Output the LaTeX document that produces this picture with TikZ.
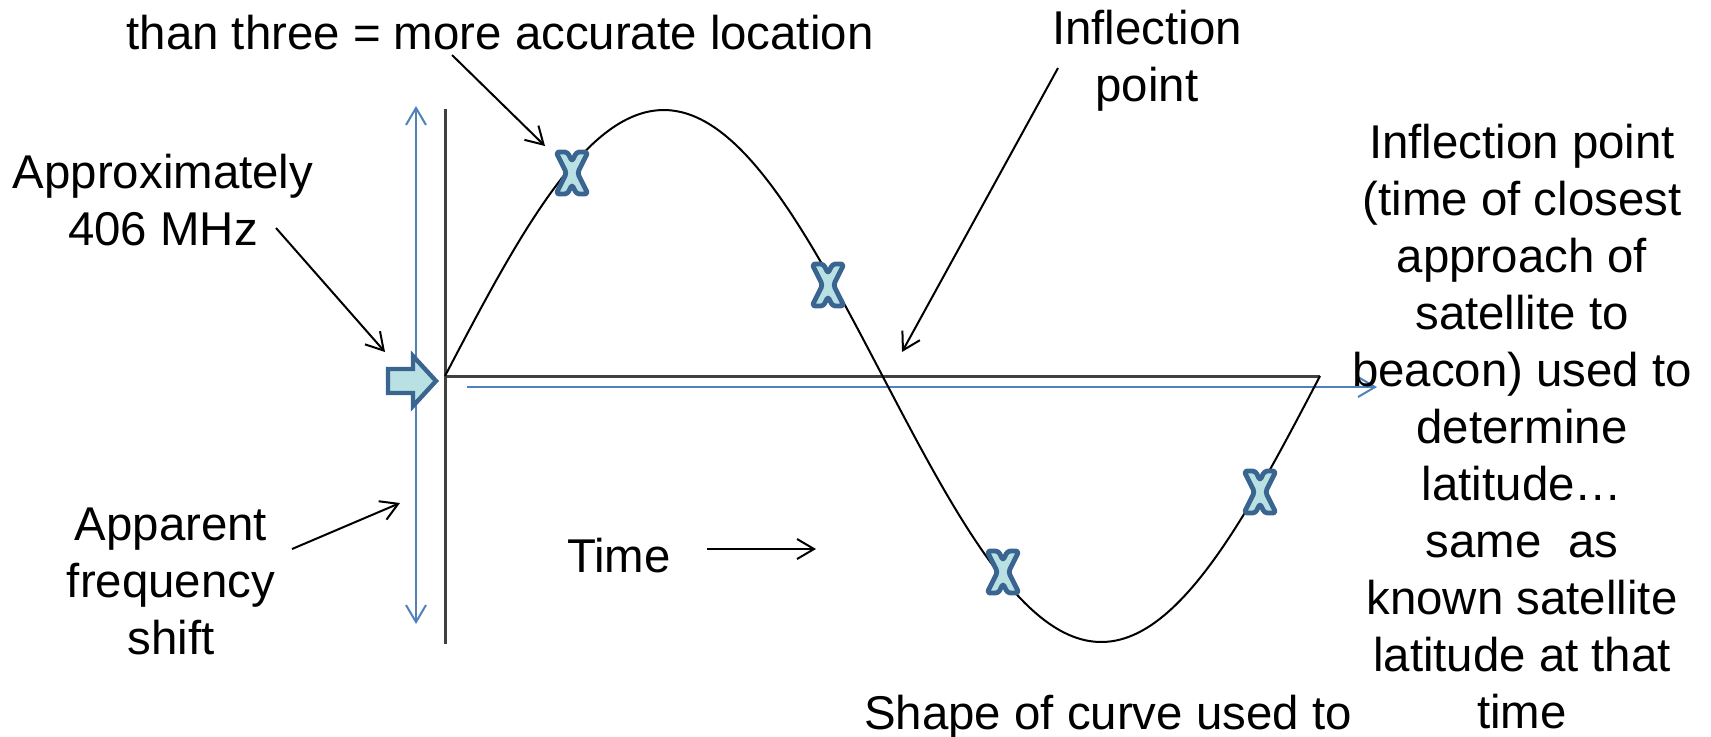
\documentclass[tikz,border=0pt]{standalone}
\usepackage{fontspec}
\setmainfont{Liberation Sans}
\usetikzlibrary{arrows.meta}
\definecolor{xfill}{HTML}{B9E0E3}
\definecolor{xline}{HTML}{3A6591}
\definecolor{bluel}{HTML}{4F81BD}
\definecolor{axisc}{HTML}{404040}
\tikzset{
  lbl/.style={inner sep=0pt, align=center, anchor=base, font=\fontsize{23.7pt}{28.5pt}\selectfont},
  callout/.style={draw=black, line width=1pt, -{Straight Barb[length=8.5pt,width=10pt,line width=1pt]}},
  bluearrow/.style={draw=bluel, line width=1pt},
  axisline/.style={draw=axisc, line width=1.5pt},
  xmark/.style={fill=xfill, draw=xline, line width=2.4pt, line join=round, rounded corners=1.5pt},
}
\newcommand{\xshape}[1]{%
  \path[xmark,shift={(#1)}] (-16,-21) -- (-4.5,-21) -- (0,-11.5) -- (4.5,-21) -- (16,-21) -- (5.5,0) -- (16,21) -- (4.5,21) -- (0,11.5) -- (-4.5,21) -- (-16,21) -- (-5.5,0) -- cycle;}
\begin{document}
\begin{tikzpicture}[x=0.5pt,y=-0.5pt]
\useasboundingbox (0,0) rectangle (1711,736);

% axes
\coordinate (vtop) at (445,109);
\coordinate (vbot) at (445,644);
\coordinate (origin) at (445,376);
\coordinate (hend) at (1320,376);
\draw[axisline] (vtop) -- (vbot);
\draw[axisline] (origin) -- (hend);

% blue arrows
\coordinate (bvt) at (416,106);
\coordinate (bvb) at (416,624);
\draw[bluearrow, {Straight Barb[length=8.5pt,width=10pt,line width=1pt]}-{Straight Barb[length=8.5pt,width=10pt,line width=1pt]}] (bvt) -- (bvb);
\coordinate (bhs) at (467,387);
\coordinate (bhe) at (1377,387);
\draw[bluearrow, -{Straight Barb[length=8.5pt,width=10pt,line width=1pt]}] (bhs) -- (bhe);

% sine curve
\draw[black, line width=1pt] plot[domain=0:875, samples=220, smooth] ({\x+445}, {376-266*sin(0.411428571*\x)});

% block arrow
\path[fill=xfill, draw=xline, line width=2.2pt, line join=miter]
  (388,369) -- (413,369) -- (413,356) -- (436,381) -- (413,406) -- (413,393) -- (388,393) -- cycle;

% X markers
\coordinate (x1) at (572,173);
\coordinate (x2) at (828,285);
\coordinate (x3) at (1003,572);
\coordinate (x4) at (1260,492);
\xshape{x1}
\xshape{x2}
\xshape{x3}
\xshape{x4}

% texts (anchor=base is the baseline of the last line)
\node[lbl] (top) at (500,49) {than three = more accurate location};
\node[lbl] (infl) at (1147,101) {Inflection\\point};
\node[lbl] (right) at (1522,728) {Inflection point\\(time of closest\\approach of\\satellite to\\beacon) used to\\determine\\latitude…\\same~~as\\known satellite\\latitude at that\\time};
\node[lbl] (shape) at (1108,729) {Shape of curve used to};
\node[lbl] (approx) at (163,245) {Approximately\\406 MHz};
\node[lbl] (appar) at (171,654) {Apparent\\frequency\\shift};
\node[lbl] (time) at (619,572) {Time};

% callout arrows
\coordinate (c1s) at (452,55);
\coordinate (c1e) at (545,146);
\draw[callout] (c1s) -- (c1e);
\coordinate (c2s) at (276,228);
\coordinate (c2e) at (385,352);
\draw[callout] (c2s) -- (c2e);
\coordinate (c3s) at (1058,68);
\coordinate (c3e) at (902,352);
\draw[callout] (c3s) -- (c3e);
\coordinate (c4s) at (292,549);
\coordinate (c4e) at (400,503);
\draw[callout] (c4s) -- (c4e);
\coordinate (c5s) at (707,549);
\coordinate (c5e) at (816,549);
\draw[callout] (c5s) -- (c5e);
\end{tikzpicture}
\end{document}
